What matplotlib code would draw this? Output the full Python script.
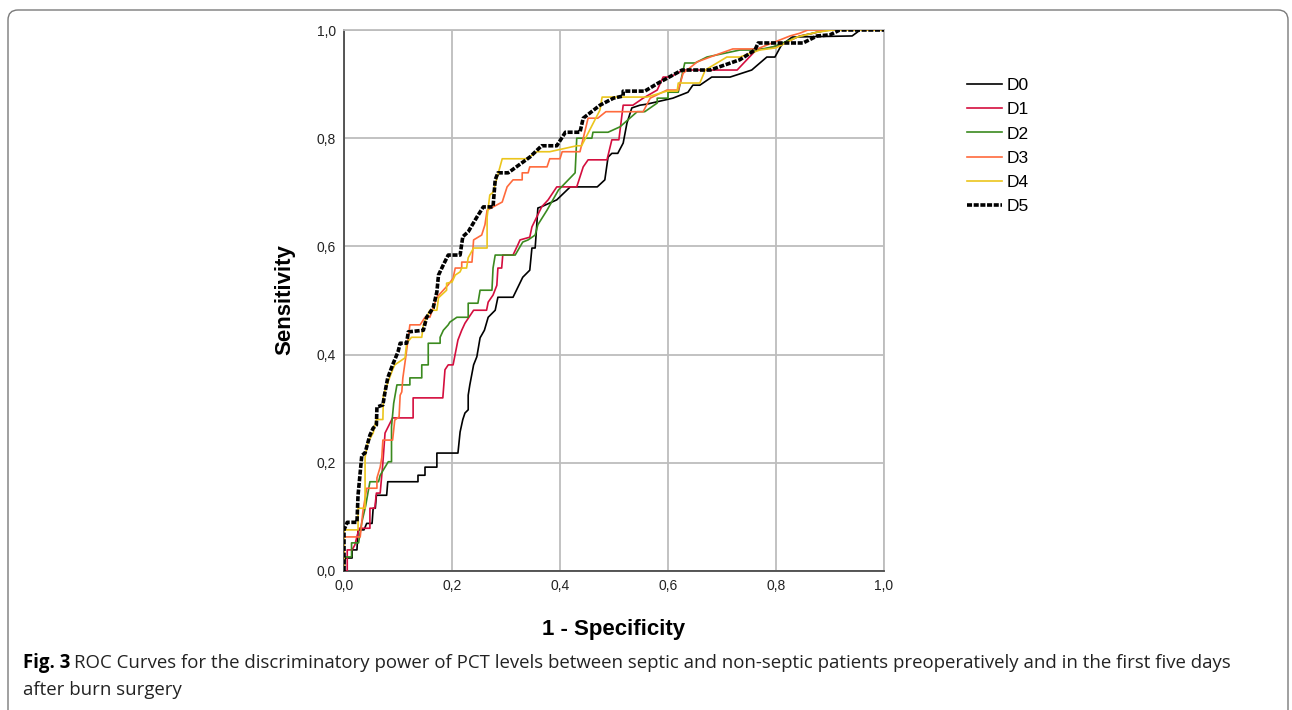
import matplotlib
matplotlib.use("Agg")
import matplotlib.pyplot as plt
from matplotlib.patches import FancyBboxPatch
from matplotlib.transforms import IdentityTransform

# ROC points (1 - specificity, sensitivity)
d0_fpr = [0, 0.002, 0.015, 0.015, 0.024, 0.026, 0.037, 0.042, 0.052, 0.054, 0.058, 0.06, 0.079, 0.081,
          0.137, 0.137, 0.15, 0.15, 0.172, 0.172, 0.211, 0.215, 0.22, 0.224, 0.23, 0.23, 0.233, 0.24,
          0.246, 0.252, 0.26, 0.267, 0.28, 0.285, 0.313, 0.331, 0.344, 0.348, 0.354, 0.357, 0.359,
          0.365, 0.394, 0.419, 0.469, 0.483, 0.489, 0.496, 0.507, 0.517, 0.524, 0.533, 0.548, 0.561,
          0.609, 0.637, 0.646, 0.659, 0.681, 0.715, 0.755, 0.783, 0.798, 0.81, 0.83, 0.941, 0.956, 1.0]
d0_tpr = [0, 0.024, 0.024, 0.039, 0.039, 0.076, 0.076, 0.088, 0.088, 0.116, 0.116, 0.14, 0.14, 0.165,
          0.165, 0.177, 0.177, 0.192, 0.192, 0.218, 0.218, 0.257, 0.28, 0.292, 0.298, 0.325, 0.344, 0.381,
          0.396, 0.431, 0.445, 0.469, 0.482, 0.506, 0.506, 0.543, 0.556, 0.597, 0.597, 0.64, 0.671,
          0.673, 0.686, 0.71, 0.71, 0.723, 0.765, 0.772, 0.772, 0.791, 0.828, 0.856, 0.861, 0.863,
          0.874, 0.885, 0.898, 0.898, 0.913, 0.913, 0.926, 0.95, 0.95, 0.972, 0.987, 0.989, 1.0, 1.0]

d1_fpr = [0, 0.006, 0.006, 0.015, 0.02, 0.028, 0.048, 0.048, 0.057, 0.06, 0.067, 0.072, 0.076, 0.09,
          0.128, 0.128, 0.183, 0.187, 0.193, 0.202, 0.211, 0.218, 0.224, 0.24, 0.264, 0.267, 0.276,
          0.283, 0.285, 0.292, 0.294, 0.313, 0.322, 0.326, 0.344, 0.348, 0.366, 0.378, 0.394, 0.431,
          0.443, 0.452, 0.487, 0.496, 0.509, 0.517, 0.535, 0.554, 0.58, 0.591, 0.604, 0.628, 0.728,
          0.765, 0.78, 0.807, 0.844, 0.869, 0.894, 1.0]
d1_tpr = [0, 0, 0.039, 0.039, 0.048, 0.079, 0.079, 0.116, 0.116, 0.144, 0.144, 0.2, 0.255, 0.283,
          0.283, 0.32, 0.32, 0.372, 0.381, 0.381, 0.427, 0.445, 0.458, 0.482, 0.482, 0.497, 0.51,
          0.528, 0.56, 0.56, 0.584, 0.584, 0.603, 0.612, 0.617, 0.636, 0.673, 0.686, 0.71, 0.71,
          0.747, 0.76, 0.76, 0.797, 0.797, 0.861, 0.861, 0.874, 0.889, 0.913, 0.913, 0.926, 0.926,
          0.965, 0.965, 0.972, 0.989, 0.994, 1.0, 1.0]

d2_fpr = [0, 0, 0.014, 0.014, 0.027, 0.033, 0.04, 0.048, 0.064, 0.067, 0.082, 0.088, 0.088, 0.092,
          0.098, 0.122, 0.122, 0.144, 0.144, 0.156, 0.156, 0.178, 0.178, 0.184, 0.193, 0.196, 0.209,
          0.23, 0.23, 0.248, 0.252, 0.274, 0.276, 0.28, 0.317, 0.331, 0.341, 0.354, 0.359, 0.376,
          0.397, 0.428, 0.431, 0.459, 0.461, 0.489, 0.511, 0.543, 0.557, 0.58, 0.58, 0.6, 0.6, 0.619,
          0.631, 0.65, 0.672, 0.733, 0.765, 0.795, 0.839, 0.876, 0.9, 1.0]
d2_tpr = [0, 0.026, 0.026, 0.052, 0.052, 0.09, 0.12, 0.165, 0.165, 0.177, 0.202, 0.202, 0.267, 0.31,
          0.344, 0.344, 0.357, 0.357, 0.381, 0.381, 0.421, 0.421, 0.432, 0.445, 0.455, 0.46, 0.469,
          0.469, 0.495, 0.495, 0.519, 0.519, 0.56, 0.584, 0.584, 0.608, 0.612, 0.621, 0.64, 0.667,
          0.704, 0.736, 0.8, 0.8, 0.811, 0.811, 0.821, 0.849, 0.849, 0.865, 0.874, 0.874, 0.885, 0.885,
          0.939, 0.939, 0.95, 0.963, 0.963, 0.969, 0.987, 0.996, 1.0, 1.0]

d3_fpr = [0, 0, 0.03, 0.035, 0.042, 0.061, 0.061, 0.067, 0.07, 0.072, 0.09, 0.094, 0.102, 0.104,
          0.107, 0.109, 0.115, 0.122, 0.141, 0.15, 0.159, 0.172, 0.193, 0.202, 0.206, 0.218, 0.218,
          0.237, 0.24, 0.255, 0.261, 0.265, 0.293, 0.302, 0.313, 0.33, 0.33, 0.341, 0.344, 0.376,
          0.381, 0.4, 0.404, 0.437, 0.452, 0.47, 0.485, 0.554, 0.567, 0.598, 0.619, 0.628, 0.654,
          0.678, 0.72, 0.765, 0.826, 0.844, 0.859, 1.0]
d3_tpr = [0, 0.063, 0.063, 0.11, 0.153, 0.153, 0.172, 0.192, 0.21, 0.242, 0.242, 0.279, 0.285, 0.325,
          0.331, 0.357, 0.4, 0.455, 0.455, 0.469, 0.469, 0.506, 0.529, 0.541, 0.56, 0.56, 0.571,
          0.571, 0.612, 0.621, 0.64, 0.667, 0.682, 0.71, 0.723, 0.723, 0.736, 0.736, 0.747, 0.747,
          0.762, 0.762, 0.775, 0.775, 0.837, 0.837, 0.849, 0.849, 0.874, 0.889, 0.889, 0.92, 0.941,
          0.95, 0.965, 0.965, 0.989, 0.994, 1.0, 1.0]

d4_fpr = [0, 0, 0.026, 0.026, 0.039, 0.039, 0.044, 0.054, 0.06, 0.072, 0.073, 0.078, 0.09, 0.094,
          0.113, 0.116, 0.125, 0.144, 0.147, 0.159, 0.172, 0.175, 0.19, 0.19, 0.2, 0.206, 0.215, 0.218,
          0.227, 0.23, 0.24, 0.265, 0.265, 0.27, 0.276, 0.293, 0.339, 0.357, 0.381, 0.431, 0.44, 0.474,
          0.478, 0.561, 0.598, 0.617, 0.619, 0.659, 0.669, 0.709, 0.733, 0.77, 0.8, 0.839, 0.876,
          0.906, 1.0]
d4_tpr = [0, 0.076, 0.076, 0.116, 0.116, 0.21, 0.238, 0.255, 0.28, 0.28, 0.325, 0.34, 0.372, 0.381,
          0.394, 0.421, 0.432, 0.432, 0.455, 0.482, 0.482, 0.505, 0.519, 0.532, 0.534, 0.547, 0.553,
          0.56, 0.56, 0.579, 0.597, 0.597, 0.654, 0.695, 0.7, 0.762, 0.762, 0.775, 0.775, 0.786, 0.786,
          0.852, 0.876, 0.876, 0.887, 0.887, 0.902, 0.902, 0.926, 0.95, 0.95, 0.963, 0.967, 0.987,
          0.996, 1.0, 1.0]

d5_fpr = [0, 0, 0.006, 0.024, 0.026, 0.033, 0.039, 0.043, 0.048, 0.054, 0.06, 0.061, 0.072, 0.076,
          0.081, 0.09, 0.1, 0.104, 0.116, 0.119, 0.147, 0.153, 0.165, 0.172, 0.175, 0.184, 0.193,
          0.215, 0.22, 0.23, 0.246, 0.258, 0.276, 0.28, 0.285, 0.304, 0.344, 0.366, 0.394, 0.41,
          0.437, 0.443, 0.474, 0.499, 0.517, 0.517, 0.557, 0.582, 0.626, 0.678, 0.733, 0.761, 0.767,
          0.85, 0.876, 0.9, 0.918, 1.0]
d5_tpr = [0, 0.076, 0.09, 0.09, 0.14, 0.214, 0.218, 0.233, 0.251, 0.264, 0.27, 0.303, 0.307, 0.331,
          0.357, 0.381, 0.405, 0.421, 0.421, 0.442, 0.445, 0.469, 0.486, 0.516, 0.547, 0.566, 0.584,
          0.584, 0.618, 0.627, 0.654, 0.673, 0.673, 0.723, 0.736, 0.736, 0.765, 0.786, 0.786, 0.811,
          0.811, 0.837, 0.861, 0.874, 0.878, 0.887, 0.887, 0.902, 0.926, 0.926, 0.945, 0.963, 0.976,
          0.976, 0.989, 0.991, 1.0, 1.0]

labels = ["D0", "D1", "D2", "D3", "D4", "D5"]
colors = ["#000000", "#D40E3E", "#3B8A1F", "#FF6A3C", "#EBC51C", "#000000"]
ticks = [0.0, 0.2, 0.4, 0.6, 0.8, 1.0]
tick_labels = ["0,0", "0,2", "0,4", "0,6", "0,8", "1,0"]

plt.rcParams["font.family"] = ["Liberation Sans", "DejaVu Sans"]

W, H = 1292, 710
fig = plt.figure(figsize=(W / 100, H / 100), dpi=100)
ax = fig.add_axes([344 / W, 1 - 571 / H, 540 / W, 541 / H])

series = [(d0_fpr, d0_tpr), (d1_fpr, d1_tpr), (d2_fpr, d2_tpr),
          (d3_fpr, d3_tpr), (d4_fpr, d4_tpr)]
for (fx, ty), lab, col in zip(series, labels[:5], colors[:5]):
    ax.plot(fx, ty, color=col, lw=1.2, label=lab, zorder=3)
ax.plot(d5_fpr, d5_tpr, color=colors[5], lw=2.6, linestyle=(0, (1.4, 0.45)),
        label=labels[5], zorder=4)

ax.set_xlim(0, 1)
ax.set_ylim(0, 1)
ax.set_xticks(ticks)
ax.set_xticklabels(tick_labels)
ax.set_yticks(ticks)
ax.set_yticklabels(tick_labels)
ax.tick_params(length=0, labelsize=10, pad=6, colors="#222222")
ax.grid(True, color="#BDBDBD", lw=1.3, zorder=0)
for s in ["left", "bottom"]:
    ax.spines[s].set_color("#4A4A4A")
    ax.spines[s].set_linewidth(1.3)
for s in ["top", "right"]:
    ax.spines[s].set_color("#BDBDBD")
    ax.spines[s].set_linewidth(1.3)

fig.text(614 / W, 1 - 630 / H, "1 - Specificity", fontsize=16, fontweight="bold",
         ha="center", va="center")
fig.text(285 / W, 1 - 300 / H, "Sensitivity", fontsize=16, fontweight="bold",
         ha="center", va="center", rotation=90)

fig.legend(loc="upper left", bbox_to_anchor=(967 / W, 1 - 78 / H), frameon=False,
           fontsize=12.5, handlelength=2.0, handletextpad=0.3, labelspacing=0.52,
           borderpad=0, borderaxespad=0)

# caption
cap_font = ["Open Sans", "DejaVu Sans"]
cap_size = 13.4
t1 = fig.text(23 / W, 1 - 663 / H, "Fig. 3", fontsize=cap_size, fontweight="bold",
              family=cap_font, ha="left", va="center")
r = fig.canvas.get_renderer()
bb = t1.get_window_extent(r)
fig.text((bb.x1 + 4) / W, 1 - 663 / H,
         "ROC Curves for the discriminatory power of PCT levels between septic and non-septic "
         "patients preoperatively and in the first five days",
         fontsize=cap_size, family=cap_font, ha="left", va="center", color="#222222")
fig.text(23 / W, 1 - 690 / H, "after burn surgery", fontsize=cap_size, family=cap_font,
         ha="left", va="center", color="#222222")

frame = FancyBboxPatch((8, -30), 1280, 730, boxstyle="round,pad=0,rounding_size=10",
                       transform=IdentityTransform(), fill=False, edgecolor="#7A7A7A", lw=1.0)
fig.add_artist(frame)

fig.savefig("out.png", dpi=100)
